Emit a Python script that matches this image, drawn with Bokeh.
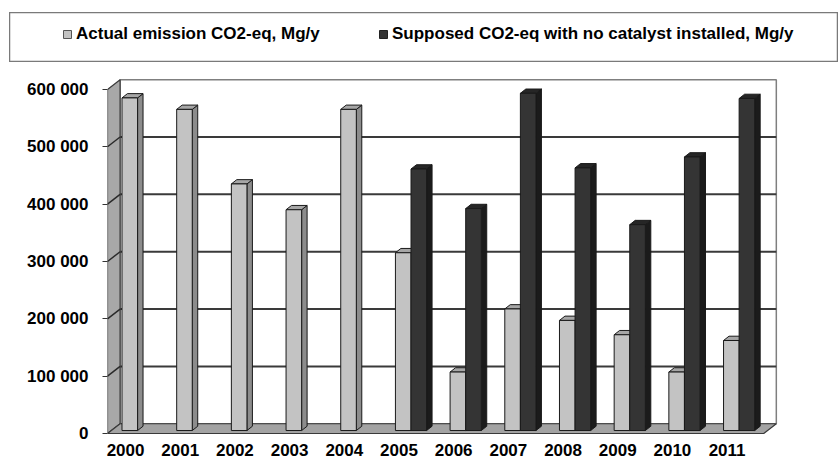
from bokeh.plotting import figure
from bokeh.models import (Range1d, FixedTicker, CustomJSTickFormatter, Legend,
                          LegendItem)
from bokeh.embed import file_html
from bokeh.resources import INLINE

# ---------------- data ----------------
years = ["2000", "2001", "2002", "2003", "2004", "2005",
         "2006", "2007", "2008", "2009", "2010", "2011"]
actual = [580000, 560000, 430000, 385000, 560000, 310000,
          102000, 212000, 192000, 167000, 102000, 157000]
supposed = [None, None, None, None, None, 456000,
            387000, 588000, 458000, 359000, 477000, 579000]
y_ticks = [0, 100000, 200000, 300000, 400000, 500000, 600000]
series_names = ["Actual emission CO2-eq, Mg/y",
                "Supposed CO2-eq with no catalyst installed, Mg/y"]

# ---------------- style / 3D geometry ----------------
WALL_DX, WALL_DY = 0.23, 17000     # depth of the chart box
BAR_DX, BAR_DY = 0.10, 7500        # depth of each column
BAR_LIFT = 5200
BAR_W = 0.285
ACT_OFF = 0.265
SUP_OFF = ACT_OFF + BAR_W
LABEL_OFF = 0.33

ACT = dict(front="#c3c3c3", side="#8c8c8c", top="#a6a6a6")
SUP = dict(front="#343434", side="#1b1b1b", top="#262626")
EDGE = "#1a1a1a"
FONT = "Liberation Sans"

n = len(years)
ymax = max(y_ticks)


def bar_geometry(values, offset):
    idx = [i for i, v in enumerate(values) if v is not None]
    left = [i + offset for i in idx]
    right = [l + BAR_W for l in left]
    bottom = [BAR_LIFT for _ in idx]
    top = [values[i] + BAR_LIFT for i in idx]
    side_xs = [[r, r + BAR_DX, r + BAR_DX, r] for r in right]
    side_ys = [[b, b + BAR_DY, t + BAR_DY, t] for b, t in zip(bottom, top)]
    top_xs = [[l, r, r + BAR_DX, l + BAR_DX] for l, r in zip(left, right)]
    top_ys = [[t, t, t + BAR_DY, t + BAR_DY] for t in top]
    return left, right, bottom, top, side_xs, side_ys, top_xs, top_ys


# ---------------- legend box ----------------
lf = figure(width=829, height=50, x_range=Range1d(0, 1), y_range=Range1d(0, 1),
            toolbar_location=None, output_backend="svg", min_border=0,
            x_axis_type=None, y_axis_type=None, title=None, margin=(12, 0, 0, 9))
lf.xgrid.visible = False
lf.ygrid.visible = False
lf.outline_line_color = "#7a7a7a"
lf.outline_line_width = 1.5
# legend swatch renderers (their single point lies outside the visible range)
r1 = lf.quad(left=[5], right=[6], top=[6], bottom=[5], fill_color=ACT["front"],
             line_color="#555555")
r2 = lf.quad(left=[5], right=[6], top=[6], bottom=[5], fill_color=SUP["front"],
             line_color="#222222")
legend = Legend(items=[LegendItem(label=series_names[0], renderers=[r1]),
                       LegendItem(label=series_names[1], renderers=[r2])],
                orientation="horizontal", location=(53, 18), padding=0, margin=0,
                spacing=0, glyph_width=10, glyph_height=10, label_standoff=4,
                label_width=302, label_height=10,
                label_text_font=FONT, label_text_font_style="bold",
                label_text_font_size="17px", label_text_color="#000000",
                border_line_color=None, background_fill_alpha=0)
lf.add_layout(legend)

# ---------------- main chart ----------------
p = figure(width=838, height=401, x_range=Range1d(0, 12.27),
           y_range=Range1d(-3470, 620800), toolbar_location=None,
           output_backend="svg", title=None, min_border_left=107,
           min_border_right=60, min_border_top=15, min_border_bottom=28)
p.outline_line_color = None
p.xgrid.visible = False
p.ygrid.visible = False

# back wall
p.quad(left=[WALL_DX], right=[n + WALL_DX], bottom=[WALL_DY], top=[ymax + WALL_DY],
       fill_color="white", line_color="#7f7f7f", line_width=1.5)
inner = y_ticks[1:-1]
p.segment(x0=[WALL_DX] * len(inner), y0=[v + WALL_DY for v in inner],
          x1=[n + WALL_DX] * len(inner), y1=[v + WALL_DY for v in inner],
          line_color="#3a3a3a", line_width=2)
# side wall
p.patch([0, 0, WALL_DX, WALL_DX], [0, ymax, ymax + WALL_DY, WALL_DY],
        fill_color="#a8a8a8", line_color="#3a3a3a", line_width=1.2)
p.segment(x0=[0] * len(inner), y0=inner, x1=[WALL_DX] * len(inner),
          y1=[v + WALL_DY for v in inner], line_color="#2a2a2a", line_width=1.5)
# floor
p.patch([0, n, n + WALL_DX, WALL_DX], [0, 0, WALL_DY, WALL_DY],
        fill_color="#a3a3a3", line_color="#3a3a3a", line_width=1.2)

# columns
for values, off, col in ((actual, ACT_OFF, ACT), (supposed, SUP_OFF, SUP)):
    l, r, b, t, sx, sy, tx, ty = bar_geometry(values, off)
    p.patches(sx, sy, fill_color=col["side"], line_color=EDGE, line_width=1)
    p.patches(tx, ty, fill_color=col["top"], line_color=EDGE, line_width=1)
    p.quad(left=l, right=r, bottom=b, top=t, fill_color=col["front"],
           line_color=EDGE, line_width=1)

# axes
yax = p.yaxis[0]
yax.ticker = FixedTicker(ticks=y_ticks)
yax.formatter = CustomJSTickFormatter(
    code=r"return tick.toFixed(0).replace(/\B(?=(\d{3})+(?!\d))/g, ' ')")
yax.axis_line_color = None
yax.major_tick_out = 5
yax.major_tick_in = 0
yax.minor_tick_line_color = None
yax.major_tick_line_color = "#333333"
yax.major_label_standoff = 14
yax.major_label_text_font = FONT
yax.major_label_text_font_style = "bold"
yax.major_label_text_font_size = "17px"
yax.major_label_text_color = "#000000"

xax = p.xaxis[0]
xax.ticker = FixedTicker(ticks=[i + LABEL_OFF for i in range(n)])
xax.formatter = CustomJSTickFormatter(args=dict(years=years),
                                      code="return years[index]")
xax.axis_line_color = None
xax.major_tick_out = 0
xax.major_tick_in = 0
xax.minor_tick_line_color = None
xax.major_label_standoff = 8
xax.major_label_text_font = FONT
xax.major_label_text_font_style = "bold"
xax.major_label_text_font_size = "17px"
xax.major_label_text_color = "#000000"

open("out.html", "w").write(file_html([lf, p], INLINE))
